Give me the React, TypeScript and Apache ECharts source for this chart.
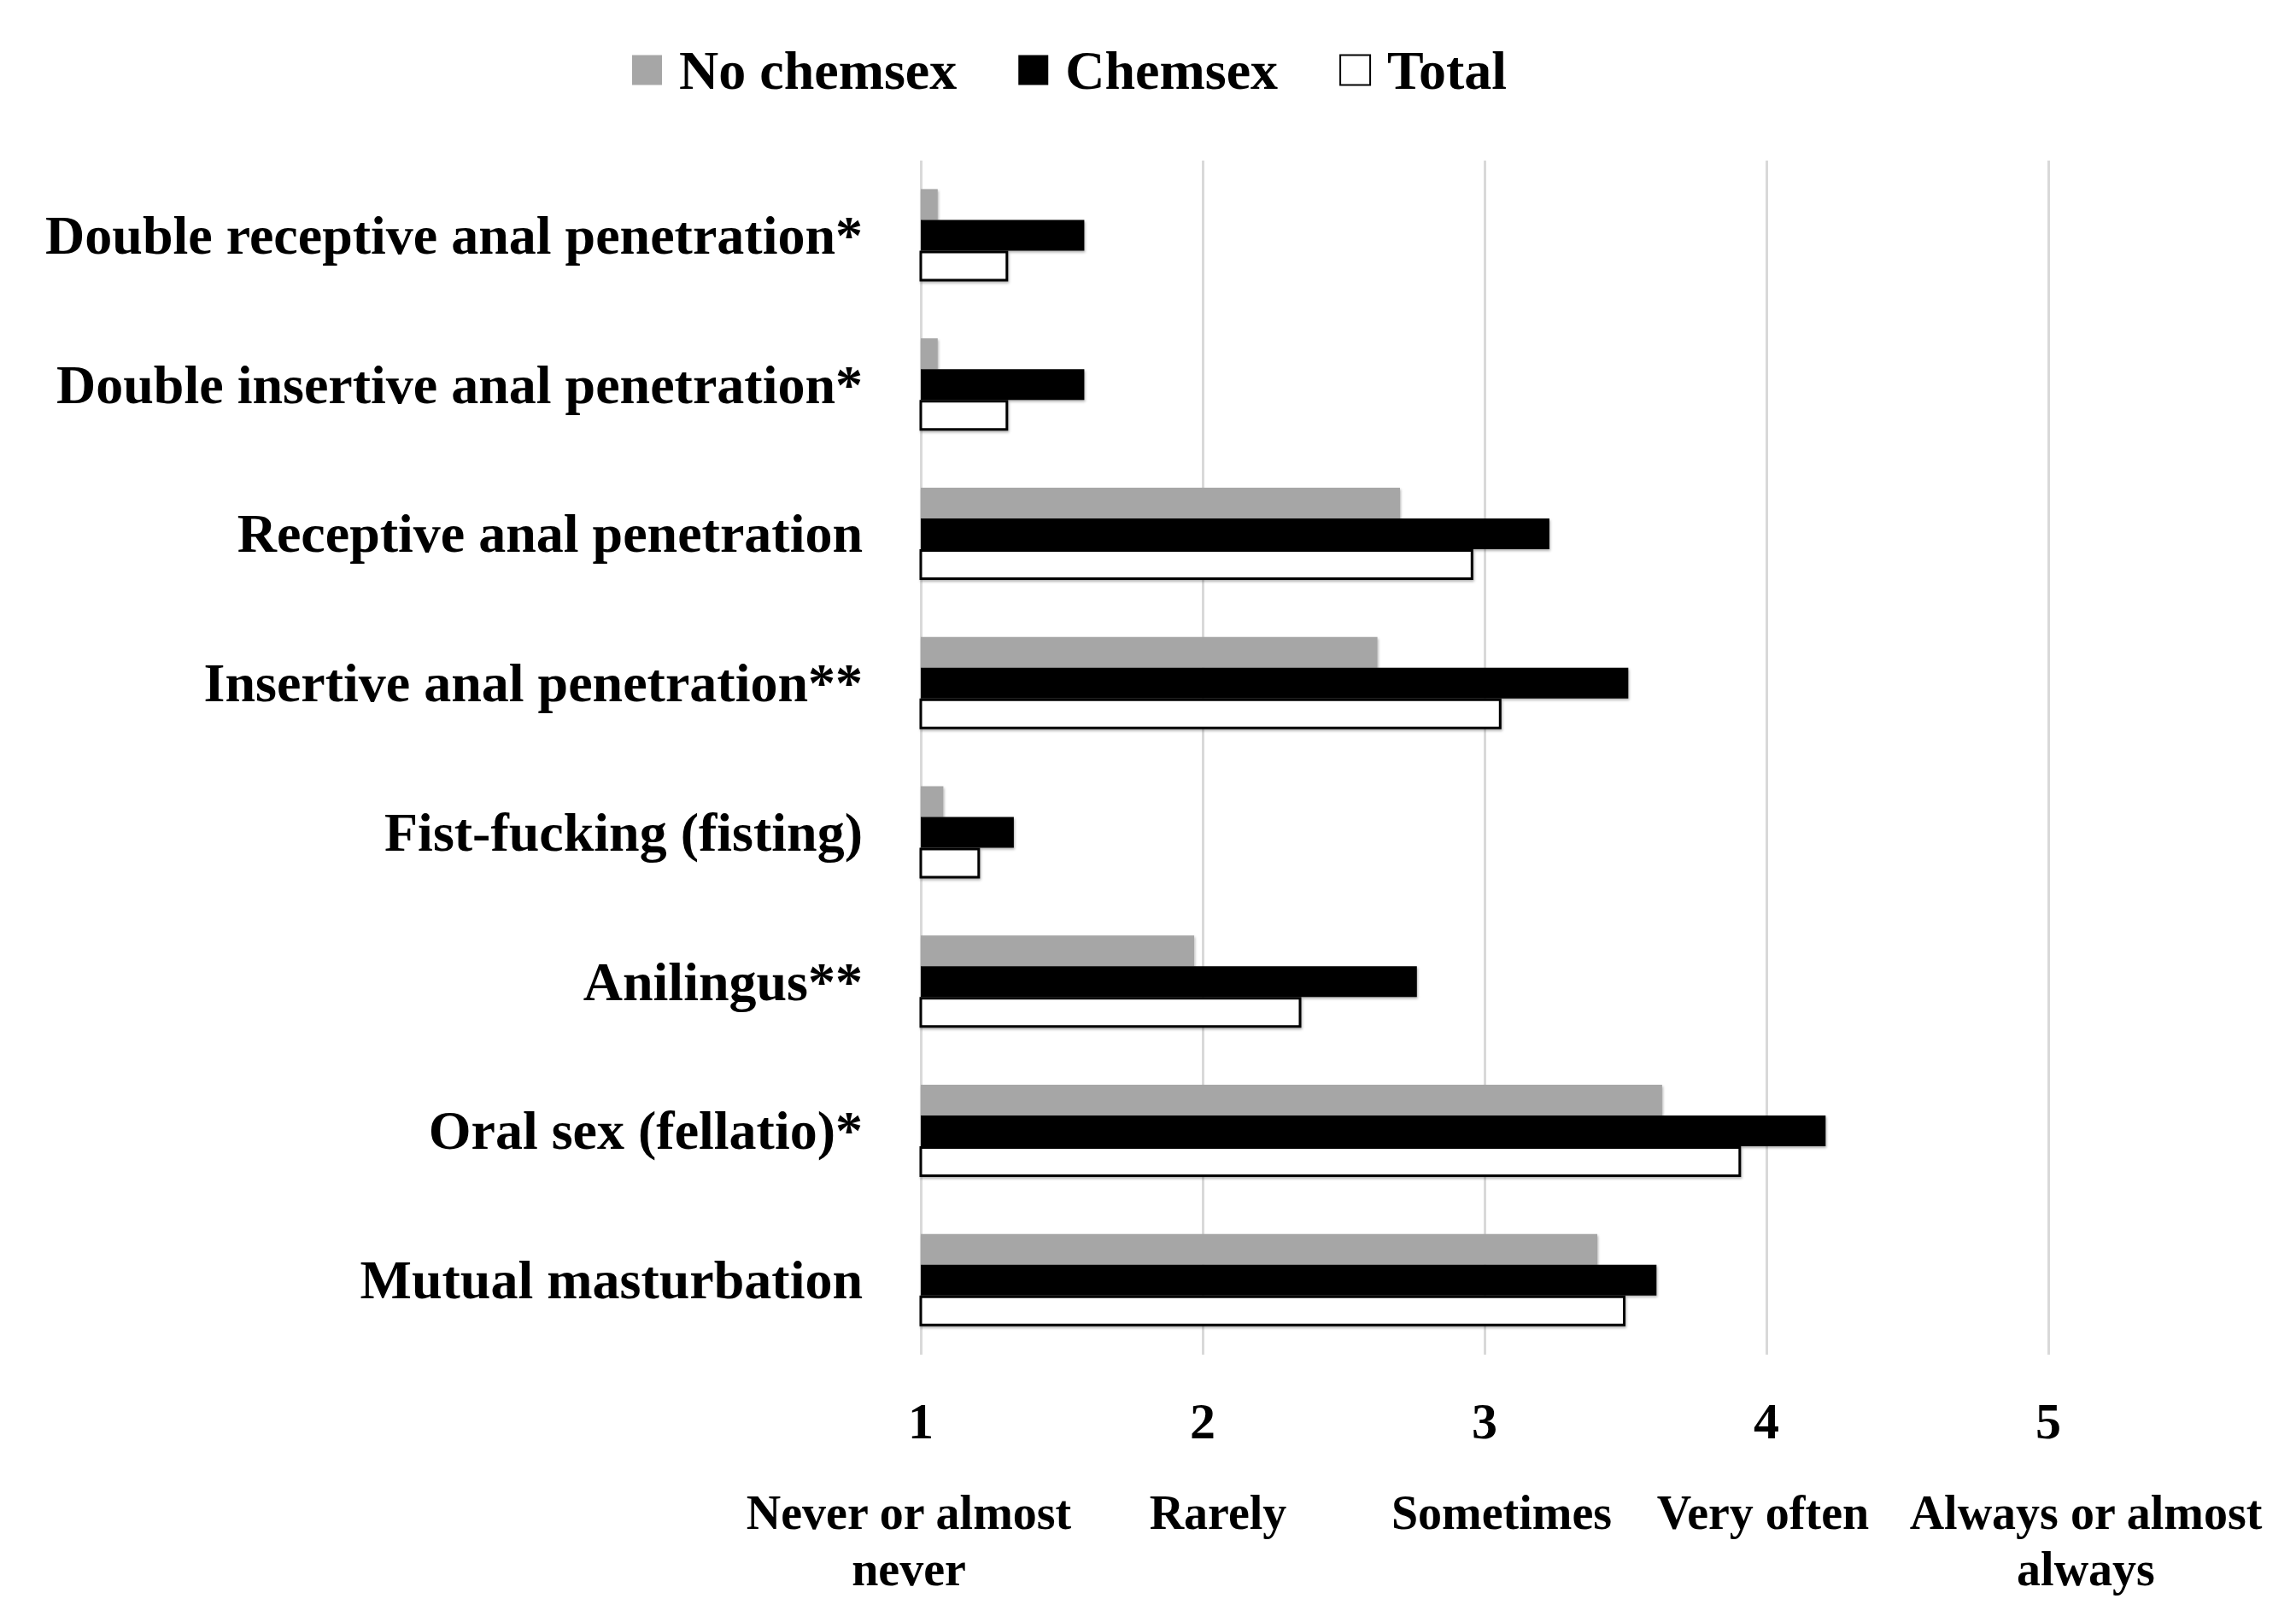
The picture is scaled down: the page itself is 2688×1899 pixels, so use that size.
import React, { useEffect, useRef } from "react";
import * as echarts from "echarts";

const categories = [
  "Double receptive anal penetration*",
  "Double insertive anal penetration*",
  "Receptive anal penetration",
  "Insertive anal penetration**",
  "Fist-fucking (fisting)",
  "Anilingus**",
  "Oral sex (fellatio)*",
  "Mutual masturbation",
];
const noChemsex = [1.06, 1.06, 2.7, 2.62, 1.08, 1.97, 3.63, 3.4];
const chemsex = [1.58, 1.58, 3.23, 3.51, 1.33, 2.76, 4.21, 3.61];
const total = [1.31, 1.31, 2.96, 3.06, 1.21, 2.35, 3.91, 3.5];
const seriesNames = ["No chemsex", "Chemsex", "Total"];
const tickValues = [1, 2, 3, 4, 5];
const tickDescriptions = [
  "Never or almost\nnever",
  "Rarely",
  "Sometimes",
  "Very often",
  "Always or almost\nalways",
];

// style: horizontal shift of each descriptor label (px)
const descShift = [-14, 18, 20, -4, 44];

const FONT = "'Liberation Serif', 'Times New Roman', serif";

export default function App() {
  const ref = useRef<HTMLDivElement>(null);
  useEffect(() => {
    if (!ref.current) return;
    const chart = echarts.init(ref.current, undefined, { renderer: "svg" });

    const rich: any = {};
    tickDescriptions.forEach((_, i) => {
      const s = descShift[i];
      rich["d" + i] = {
        fontFamily: FONT,
        fontWeight: "bold",
        fontSize: 56,
        lineHeight: 66,
        color: "#000",
        padding: s >= 0 ? [0, 0, 0, 2 * s] : [0, -2 * s, 0, 0],
      };
    });

    const shadow = {
      shadowColor: "rgba(0,0,0,0.3)",
      shadowBlur: 3,
      shadowOffsetX: 1,
      shadowOffsetY: 2,
    };

    chart.setOption({
      animation: false,
      backgroundColor: "#fff",
      legend: {
        left: 735,
        top: 45,
        icon: "rect",
        itemWidth: 35,
        itemHeight: 35,
        itemGap: 72,
        data: seriesNames,
        textStyle: {
          fontFamily: FONT,
          fontWeight: "bold",
          fontSize: 64,
          color: "#000",
          padding: [0, 0, 0, 15],
        },
      },
      grid: { left: 1078, right: 290, top: 188, bottom: 313, containLabel: false },
      xAxis: [
        {
          type: "value",
          min: tickValues[0],
          max: tickValues[tickValues.length - 1],
          interval: 1,
          axisLine: { show: false },
          axisTick: { show: false },
          splitLine: { show: true, lineStyle: { color: "#d9d9d9", width: 3 } },
          axisLabel: {
            margin: 48,
            showMinLabel: true,
            showMaxLabel: true,
            fontFamily: FONT,
            fontWeight: "bold",
            fontSize: 60,
            lineHeight: 60,
            color: "#000",
          },
        },
        {
          type: "category",
          data: tickDescriptions,
          boundaryGap: false,
          position: "bottom",
          offset: 144,
          axisLine: { show: false },
          axisTick: { show: false },
          splitLine: { show: false },
          axisLabel: {
            margin: 8,
            interval: 0,
            rich,
            formatter: (v: string, i: number) =>
              v
                .split("\n")
                .map((line) => `{d${i}|${line}}`)
                .join("\n"),
          },
        },
      ],
      yAxis: {
        type: "category",
        inverse: true,
        data: categories,
        axisLine: { show: false },
        axisTick: { show: false },
        splitLine: { show: false },
        axisLabel: {
          margin: 68,
          fontFamily: FONT,
          fontWeight: "bold",
          fontSize: 64,
          color: "#000",
        },
      },
      series: [
        {
          name: seriesNames[0],
          type: "bar",
          xAxisIndex: 0,
          data: noChemsex,
          barWidth: 36,
          barGap: "0%",
          itemStyle: { color: "#a6a6a6", ...shadow },
        },
        {
          name: seriesNames[1],
          type: "bar",
          xAxisIndex: 0,
          data: chemsex,
          barWidth: 36,
          barGap: "0%",
          itemStyle: { color: "#000000", ...shadow },
        },
        {
          name: seriesNames[2],
          type: "bar",
          xAxisIndex: 0,
          data: total,
          barWidth: 36,
          barGap: "0%",
          itemStyle: { color: "#ffffff", borderColor: "#000000", borderWidth: 3, ...shadow },
        },
      ],
    });
    return () => chart.dispose();
  }, []);
  return (
    <div
      ref={ref}
      style={{ position: "fixed", left: 0, top: 0, width: 2688, height: 1899, background: "#fff" }}
    />
  );
}
